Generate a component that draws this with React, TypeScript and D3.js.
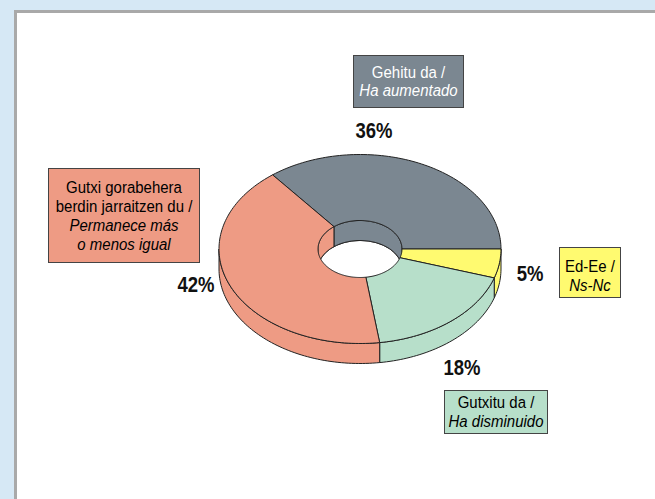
import React from "react";
import * as d3 from "d3";

const categories = ["Gehitu da", "Ed-Ee", "Gutxitu da", "Gutxi gorabehera berdin jarraitzen du"];
const values = [36, 5, 18, 42];
const percentLabels = ["36%", "5%", "18%", "42%"];
const boxLines: { text: string; italic: boolean }[][] = [
  [{ text: "Gehitu da /", italic: false }, { text: "Ha aumentado", italic: true }],
  [{ text: "Ed-Ee /", italic: false }, { text: "Ns-Nc", italic: true }],
  [{ text: "Gutxitu da /", italic: false }, { text: "Ha disminuido", italic: true }],
  [
    { text: "Gutxi gorabehera", italic: false },
    { text: "berdin jarraitzen du /", italic: false },
    { text: "Permanece más", italic: true },
    { text: "o menos igual", italic: true },
  ],
];
const colors = ["#7b8791", "#fffa70", "#b7dfca", "#ee9b84"];
const textColors = ["#ffffff", "#000000", "#000000", "#000000"];

// layout
const W = 655, H = 499;
const cx = 360, cy = 249, rx = 141, ry = 94.5, irx = 42, iry = 28.5, depth = 20;
const boxes = [
  { x: 353, y: 55, w: 110, h: 52, base: 78, lh: 17.5 },
  { x: 559, y: 247, w: 61, h: 50, base: 272, lh: 19 },
  { x: 444, y: 390, w: 103, h: 43, base: 408, lh: 19 },
  { x: 48, y: 168, w: 151, h: 94, base: 193, lh: 19 },
];
const pctPos = [
  { x: 374, y: 138 },
  { x: 530, y: 281 },
  { x: 462, y: 375 },
  { x: 196, y: 292 },
];

const total = d3.sum(values);
const startA = Math.PI / 2 - (2 * Math.PI * values[0]) / total;
const pie = d3
  .pie<number>()
  .sort(null)
  .startAngle(startA)
  .endAngle(startA + 2 * Math.PI);
const arcs = pie(values);

const pt = (a: number, rX: number, rY: number, dy = 0): [number, number] => [
  cx + rX * Math.sin(a),
  cy - rY * Math.cos(a) + dy,
];
const sample = (a0: number, a1: number, rX: number, rY: number, dy = 0) => {
  const n = Math.max(2, Math.ceil(Math.abs(a1 - a0) * 40));
  return d3.range(n + 1).map((i) => pt(a0 + ((a1 - a0) * i) / n, rX, rY, dy));
};
const line = d3.line();
const closed = (pts: [number, number][]) => (line(pts) || "") + "Z";

const intersect = (a0: number, a1: number, lo: number, hi: number) => {
  const res: [number, number][] = [];
  for (const s of [-2 * Math.PI, 0, 2 * Math.PI]) {
    const b0 = Math.max(a0, lo + s), b1 = Math.min(a1, hi + s);
    if (b1 > b0 + 1e-6) res.push([b0, b1]);
  }
  return res;
};

const STROKE = "#222";

export default function App() {
  const outerWalls: React.ReactNode[] = [];
  const innerWalls: React.ReactNode[] = [];
  arcs.forEach((d, i) => {
    intersect(d.startAngle, d.endAngle, Math.PI / 2, (3 * Math.PI) / 2).forEach(([a0, a1], k) => {
      const p = [...sample(a0, a1, rx, ry), ...sample(a1, a0, rx, ry, depth)];
      outerWalls.push(
        <path key={`ow${i}-${k}`} d={closed(p)} fill={colors[i]} stroke={STROKE} strokeWidth={1} strokeLinejoin="round" />
      );
    });
    intersect(d.startAngle, d.endAngle, -Math.PI / 2, Math.PI / 2).forEach(([a0, a1], k) => {
      const p = [...sample(a0, a1, irx, iry), ...sample(a1, a0, irx, iry, depth)];
      innerWalls.push(
        <path key={`iw${i}-${k}`} d={closed(p)} fill={colors[i]} stroke={STROKE} strokeWidth={1} strokeLinejoin="round" />
      );
    });
  });

  return (
    <svg
      width={W}
      height={H}
      style={{ position: "absolute", left: 0, top: 0, display: "block" }}
      fontFamily="'Liberation Sans', Arial, sans-serif"
    >
      <rect x={0} y={0} width={W} height={H} fill="#d6e8f5" />
      <rect x={15.5} y={11.5} width={W + 20} height={H + 20} fill="#ffffff" stroke="#a9a9a9" strokeWidth={3} />

      {outerWalls}
      <ellipse cx={cx} cy={cy + depth} rx={irx} ry={iry} fill="#ffffff" stroke={STROKE} strokeWidth={1} />
      {innerWalls}
      {arcs.map((d, i) => {
        const p = [...sample(d.startAngle, d.endAngle, rx, ry), ...sample(d.endAngle, d.startAngle, irx, iry)];
        return <path key={`top${i}`} d={closed(p)} fill={colors[i]} stroke={STROKE} strokeWidth={1} strokeLinejoin="round" />;
      })}

      {percentLabels.map((t, i) => (
        <text
          key={`pct${i}`}
          transform={`translate(${pctPos[i].x},${pctPos[i].y}) scale(1,1.2)`}
          textAnchor="middle"
          fontSize={18.5}
          fontWeight="bold"
          fill="#111"
        >
          {t}
        </text>
      ))}

      {boxes.map((b, i) => (
        <g key={`box${i}`}>
          <rect x={b.x + 0.5} y={b.y + 0.5} width={b.w} height={b.h} fill={colors[i]} stroke="#444" strokeWidth={1} />
          {boxLines[i].map((l, j) => (
            <text
              key={j}
              transform={`translate(${b.x + b.w / 2 + 0.5},${b.base + j * b.lh}) scale(1,1.12)`}
              textAnchor="middle"
              fontSize={15}
              fontStyle={l.italic ? "italic" : "normal"}
              fill={textColors[i]}
            >
              {l.text}
            </text>
          ))}
        </g>
      ))}
    </svg>
  );
}
